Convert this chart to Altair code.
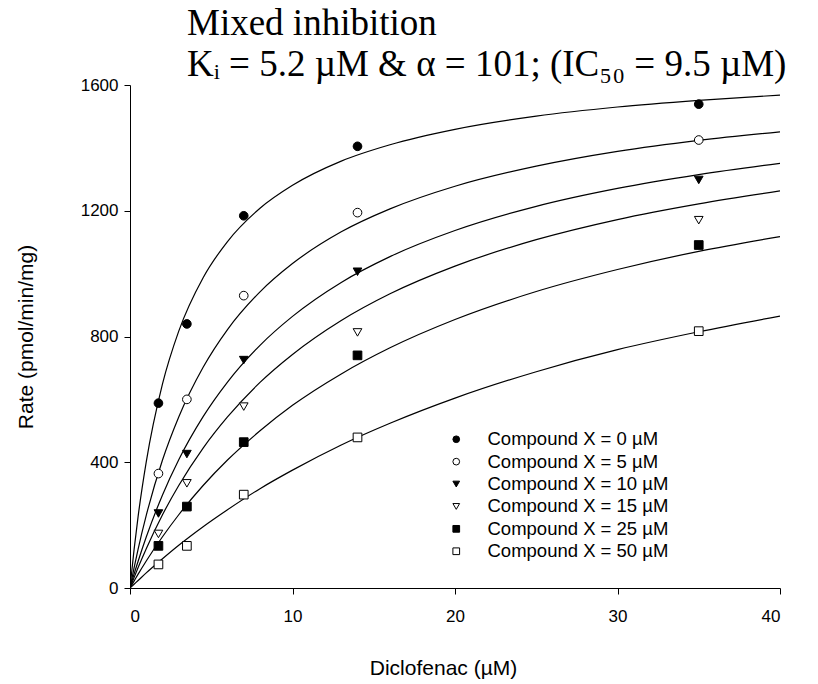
import altair as alt
import pandas as pd

# ---- data ----
series_labels = [
    "Compound X = 0 \u00b5M",
    "Compound X  = 5 \u00b5M",
    "Compound X = 10 \u00b5M",
    "Compound X = 15 \u00b5M",
    "Compound X = 25 \u00b5M",
    "Compound X = 50 \u00b5M",
]
shapes = ["circle", "circle", "triangle-down", "triangle-down", "square", "square"]
fills = ["black", "white", "black", "white", "black", "white"]

# measured points
conc_pts = [1.75, 3.5, 7, 14, 35]
rate_0 = [588, 840, 1184, 1405, 1539]
rate_5 = [364, 600, 930, 1194, 1425]
rate_10 = [237, 426, 725, 1006, 1298]
rate_15 = [172, 333, 577, 813, 1170]
rate_25 = [134, 259, 464, 740, 1091]
rate_50 = [75, 134, 297, 479, 817]

# fitted curves
conc_fit = [0, 0.25, 0.5, 1, 2, 3, 4.5, 6, 8, 10, 13, 16, 20, 25, 30, 35, 40]
fit_0 = [0, 122, 228, 401, 649, 817, 987, 1102, 1208, 1281, 1358, 1410, 1459, 1501, 1530, 1551, 1568]
fit_5 = [0, 64, 124, 231, 407, 544, 702, 822, 942, 1032, 1133, 1206, 1278, 1342, 1389, 1424, 1451]
fit_10 = [0, 44, 85, 162, 296, 408, 545, 655, 772, 864, 972, 1054, 1137, 1214, 1271, 1315, 1351]
fit_15 = [0, 33, 65, 125, 233, 326, 445, 544, 654, 743, 851, 936, 1024, 1108, 1172, 1222, 1263]
fit_25 = [0, 22, 44, 86, 163, 233, 326, 407, 500, 581, 681, 764, 854, 943, 1013, 1071, 1118]
fit_50 = [0, 12, 24, 48, 93, 136, 195, 249, 316, 375, 455, 524, 604, 688, 758, 815, 865]

x_ticks = [0, 10, 20, 30, 40]
y_ticks = [0, 400, 800, 1200, 1600]

pts_all = [rate_0, rate_5, rate_10, rate_15, rate_25, rate_50]
fit_all = [fit_0, fit_5, fit_10, fit_15, fit_25, fit_50]

pts_rows = []
for lab, vals in zip(series_labels, pts_all):
    for c, v in zip(conc_pts, vals):
        pts_rows.append({"conc": c, "rate": v, "series": lab})
fit_rows = []
for lab, vals in zip(series_labels, fit_all):
    for c, v in zip(conc_fit, vals):
        fit_rows.append({"conc": c, "rate": v, "series": lab})

pts_df = pd.DataFrame(pts_rows)
fit_df = pd.DataFrame(fit_rows)

W = 650
H = 503

x_enc = alt.X(
    "conc:Q",
    scale=alt.Scale(domain=[0, 40], nice=False, zero=True),
    axis=alt.Axis(values=x_ticks, title="Diclofenac (\u00b5M)", titleX=W / 2 - 12,
                  titleY=80, titleBaseline="middle", titleAlign="center",
                  labelPadding=14, format="d"),
)
y_enc = alt.Y(
    "rate:Q",
    scale=alt.Scale(domain=[0, 1600], nice=False),
    axis=alt.Axis(values=y_ticks, title="Rate (pmol/min/mg)", titleX=-104,
                  titleY=H / 2, titleBaseline="middle", titleAlign="center",
                  labelPadding=6, format="d"),
)

legend_kw = dict(
    title=None, orient="none", legendX=317, legendY=345,
    symbolSize=45, symbolStrokeWidth=1,
    labelFont="Liberation Sans", labelFontSize=18.5, labelColor="black",
    labelOffset=22, labelLimit=400, rowPadding=3.4, padding=0,
)

lines = alt.Chart(fit_df).mark_line(
    color="black", strokeWidth=1.2, interpolate="monotone", clip=True
).encode(x=x_enc, y=y_enc, detail="series:N")

points = alt.Chart(pts_df).mark_point(
    strokeWidth=1, opacity=1, size=75, filled=False
).encode(
    x=x_enc,
    y=y_enc,
    shape=alt.Shape("series:N", scale=alt.Scale(domain=series_labels, range=shapes),
                    legend=alt.Legend(**legend_kw)),
    fill=alt.Fill("series:N", scale=alt.Scale(domain=series_labels, range=fills),
                  legend=alt.Legend(**legend_kw)),
    stroke=alt.Stroke("series:N", scale=alt.Scale(domain=series_labels, range=["black"] * 6),
                      legend=alt.Legend(**legend_kw)),
)

chart = (
    alt.layer(lines, points)
    .properties(
        width=W,
        height=H,
        autosize=alt.AutoSizeParams(type="none"),
        padding={"left": 122, "top": 77, "right": 30, "bottom": 95},
        title=alt.Title(
            text=["Mixed inhibition",
                  "K\u1d62 = 5.2 \u00b5M & \u03b1 = 101; (IC\u2085\u2080 = 9.5 \u00b5M)"],
            font="Liberation Serif",
            fontSize=37,
            fontWeight="normal",
            color="black",
            anchor="start",
            frame="group",
            dx=57,
            dy=10,
            lineHeight=41,
            offset=2,
        ),
    )
    .configure_view(stroke=None)
    .configure_axis(
        grid=False,
        domainColor="black",
        tickColor="black",
        tickSize=6,
        labelColor="black",
        labelFont="Liberation Sans",
        labelFontSize=17,
        titleFont="Liberation Sans",
        titleFontSize=21,
        titleFontWeight="normal",
        titleColor="black",
    )
)

chart.save("out.html", embed_options={"renderer": "svg", "actions": False})
